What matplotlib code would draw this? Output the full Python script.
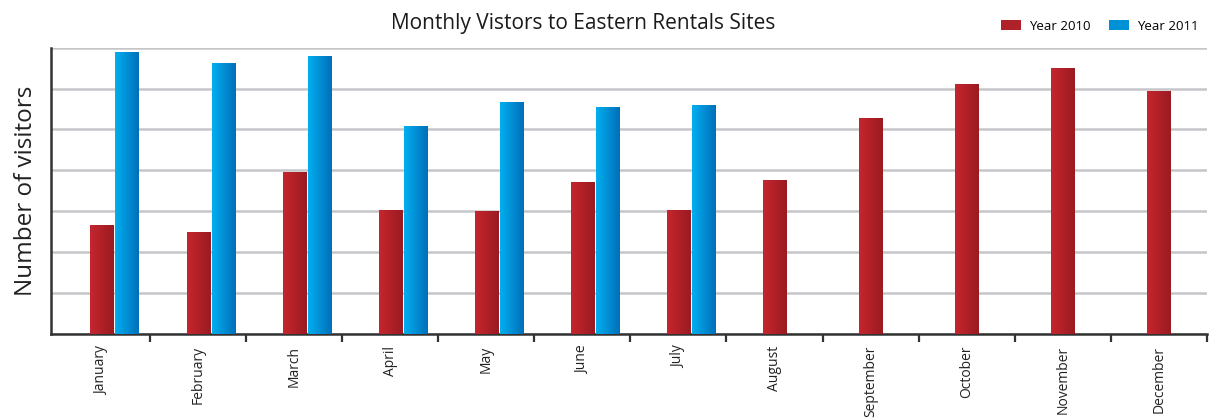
import numpy as np
import matplotlib
matplotlib.use("Agg")
import matplotlib.pyplot as plt
from matplotlib.colors import LinearSegmentedColormap
from matplotlib.patches import Patch

# ── Data ──────────────────────────────────────────────────────────
MONTHS = ["January", "February", "March", "April", "May", "June", "July",
          "August", "September", "October", "November", "December"]
Y2010 = [2.65, 2.48, 3.94, 3.01, 2.99, 3.70, 3.01, 3.74, 5.26, 6.09, 6.48, 5.91]
Y2011 = [6.87, 6.60, 6.77, 5.06, 5.65, 5.52, 5.57]

# ── Style ─────────────────────────────────────────────────────────
plt.rcParams["font.family"] = ["Open Sans", "DejaVu Sans"]
RED  = LinearSegmentedColormap.from_list("red",  ["#c5262e", "#9a1b20"])
BLUE = LinearSegmentedColormap.from_list("blue", ["#00aeef", "#0070ba"])
GRAD = np.linspace(0, 1, 64).reshape(1, -1)
BW = 0.24

fig = plt.figure(figsize=(12.16, 4.2), dpi=100)
ax = fig.add_axes([0.042, 0.2036, 0.9505, 0.6833])

x = np.arange(len(MONTHS))
x11 = x[:len(Y2011)]
b10 = ax.bar(x, Y2010, width=BW, color="none", zorder=3)
b11 = ax.bar(x11 + 0.26, Y2011, width=BW, color="none", zorder=3)


def shade(bars, cmap):
    for r in bars:
        x0, y0 = r.get_x(), r.get_y()
        ax.imshow(GRAD, cmap=cmap, aspect="auto", zorder=3,
                  extent=[x0, x0 + r.get_width(), y0, y0 + r.get_height()])


shade(b10, RED)
shade(b11, BLUE)

ax.set_xlim(-0.53, 11.5)
ax.set_ylim(0, 7)
ax.set_yticks(np.arange(0, 8))
ax.set_yticklabels([])
ax.tick_params(axis="y", length=0)
ax.grid(axis="y", color="#c6c6ca", lw=1.8, zorder=0)

ax.set_xticks(x)
ax.set_xticklabels(MONTHS, rotation=90, fontsize=10, color="#222222", va="top")
ax.tick_params(axis="x", which="major", length=0, pad=8)
ax.set_xticks(np.arange(0.5, 12, 1), minor=True)
ax.tick_params(axis="x", which="minor", length=6, width=1.6, color="#333333",
               direction="out")

for s in ["top", "right"]:
    ax.spines[s].set_visible(False)
for s in ["left", "bottom"]:
    ax.spines[s].set_color("#333333")
    ax.spines[s].set_linewidth(1.8)

ax.set_ylabel("Number of visitors", fontsize=17.5, color="#222222", labelpad=6)
fig.text(0.48, 0.945, "Monthly Vistors to Eastern Rentals Sites",
         ha="center", va="center", fontsize=15, color="#1a1a1a")

handles = [Patch(facecolor="#b0222a", label="Year 2010"),
           Patch(facecolor="#0090d5", label="Year 2011")]
fig.legend(handles=handles, loc="center right", bbox_to_anchor=(0.995, 0.938),
           ncol=2, frameon=False, fontsize=9.5, handlelength=1.5,
           handleheight=0.9, columnspacing=1.4, handletextpad=0.6)

fig.savefig("out.png", dpi=100)
